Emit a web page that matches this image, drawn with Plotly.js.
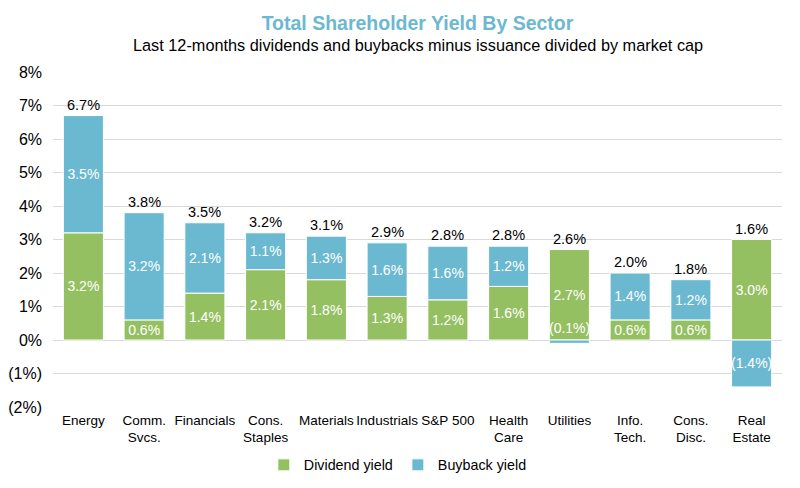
<!DOCTYPE html>
<html>
<head>
<meta charset="utf-8">
<script src="https://cdn.plot.ly/plotly-3.0.1.min.js"></script>
<style>html,body{margin:0;padding:0;background:#fff;}#chart{width:800px;height:488px;}</style>
</head>
<body>
<div id="chart"></div>
<script>
var categories = ["Energy", "Comm.<br>Svcs.", "Financials", "Cons.<br>Staples", "Materials", "Industrials", "S&P 500", "Health<br>Care", "Utilities", "Info.<br>Tech.", "Cons.<br>Disc.", "Real<br>Estate"];
var dividendYield = [3.2, 0.6, 1.4, 2.1, 1.8, 1.3, 1.2, 1.6, 2.7, 0.6, 0.6, 3.0];
var buybackYield = [3.5, 3.2, 2.1, 1.1, 1.3, 1.6, 1.6, 1.2, -0.1, 1.4, 1.2, -1.4];
var totalYield = [6.7, 3.8, 3.5, 3.2, 3.1, 2.9, 2.8, 2.8, 2.6, 2.0, 1.8, 1.6];
var yTickVals = [-2, -1, 0, 1, 2, 3, 4, 5, 6, 7, 8];
var yTickText = ["(2%)", "(1%)", "0%", "1%", "2%", "3%", "4%", "5%", "6%", "7%", "8%"];

function fmt(v) {
  return v < 0 ? "(" + Math.abs(v).toFixed(1) + "%)" : v.toFixed(1) + "%";
}

var GREEN = "#95c062";
var BLUE = "#6bb9d0";
var FONT = "Liberation Sans, Arial, sans-serif";

var smallIdx = [];
var buyText = buybackYield.map(function (v, i) {
  if (Math.abs(v) < 0.3) { smallIdx.push(i); return ""; }
  return fmt(v);
});

var traces = [
  {
    type: "bar", name: "Dividend yield", x: categories, y: dividendYield,
    marker: { color: GREEN, line: { color: "#ffffff", width: 1 } },
    text: dividendYield.map(fmt), textposition: "inside", insidetextanchor: "middle",
    textangle: 0, textfont: { color: "#ffffff", size: 14, family: FONT },
    hoverinfo: "none"
  },
  {
    type: "bar", name: "Buyback yield", x: categories, y: buybackYield,
    marker: { color: BLUE, line: { color: "#ffffff", width: 1 } },
    text: buyText, textposition: "inside", insidetextanchor: "middle",
    textangle: 0, textfont: { color: "#ffffff", size: 14, family: FONT },
    hoverinfo: "none"
  }
];

var annotations = [];
categories.forEach(function (c, i) {
  var top = Math.max(dividendYield[i], 0) + Math.max(buybackYield[i], 0);
  annotations.push({
    x: c, y: top, xref: "x", yref: "y", text: fmt(totalYield[i]),
    showarrow: false, yanchor: "bottom", yshift: 1,
    font: { size: 14.5, color: "#000000", family: FONT }
  });
});
smallIdx.forEach(function (i) {
  annotations.push({
    x: categories[i], y: 0, xref: "x", yref: "y", text: fmt(buybackYield[i]),
    showarrow: false, yanchor: "bottom", yshift: 2,
    font: { size: 14, color: "#ffffff", family: FONT }
  });
});
annotations.push({
  xref: "paper", yref: "paper", x: 0.5, y: 1, yshift: 27, xanchor: "center", yanchor: "middle",
  text: "Last 12-months dividends and buybacks minus issuance divided by market cap",
  showarrow: false, font: { size: 16.3, color: "#000000", family: FONT }
});

var layout = {
  width: 800, height: 488,
  margin: { l: 53, r: 18, t: 72, b: 81, autoexpand: false },
  paper_bgcolor: "#ffffff", plot_bgcolor: "#ffffff",
  barmode: "relative", bargap: 0.34,
  title: {
    text: "<b>Total Shareholder Yield By Sector</b>",
    x: 0.5, xanchor: "center", xref: "paper", y: 0.952, yanchor: "middle", yref: "container",
    font: { size: 19.5, color: "#6bb8cf", family: FONT }
  },
  xaxis: {
    type: "category", showgrid: false, showline: false, ticks: "", tickangle: 0,
    automargin: false, ticklabelstandoff: 3,
    tickfont: { size: 13.5, color: "#000000", family: FONT }, fixedrange: true
  },
  yaxis: {
    range: [-2, 8], tickvals: yTickVals, ticktext: yTickText, automargin: false,
    showgrid: true, gridcolor: "#d9d9d9", gridwidth: 1,
    zeroline: true, zerolinecolor: "#d9d9d9", zerolinewidth: 1,
    showline: false, ticks: "", ticklen: 0, ticklabelstandoff: 10,
    tickfont: { size: 16, color: "#000000", family: FONT }, fixedrange: true
  },
  legend: {
    orientation: "h", x: 0.473, xanchor: "center", xref: "paper",
    y: 0.047, yanchor: "middle", yref: "container",
    font: { size: 14.3, color: "#000000", family: FONT }, traceorder: "normal",
    itemwidth: 30
  },
  annotations: annotations,
  uniformtext: { minsize: 14, mode: "show" },
  showlegend: true
};

Plotly.newPlot("chart", traces, layout, { displayModeBar: false, staticPlot: true });
</script>
</body>
</html>
